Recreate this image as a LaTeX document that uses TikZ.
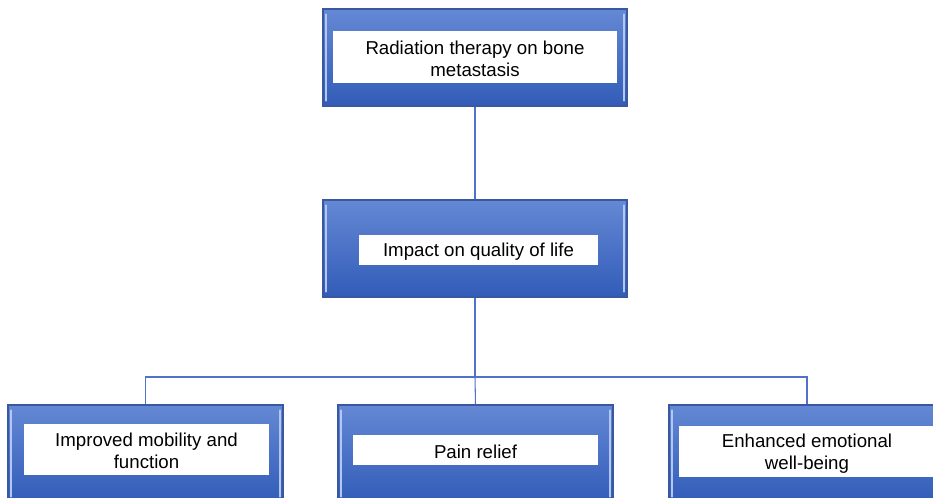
\documentclass[tikz,border=0pt]{standalone}
\usepackage{fontspec}
\setmainfont{Liberation Sans}
\definecolor{boxtop}{RGB}{100,136,212}
\definecolor{boxbot}{RGB}{50,92,184}
\definecolor{boxedge}{RGB}{58,88,160}
\definecolor{bevel}{RGB}{178,200,242}
\definecolor{linkc}{RGB}{80,115,200}
\tikzset{
  outerbox/.style={draw=boxedge, line width=0.8pt, top color=boxtop, bottom color=boxbot, rectangle, inner sep=0pt},
  whitebox/.style={fill=white, draw=none, rectangle, inner sep=0pt},
  labeltext/.style={inner sep=0pt, align=center, font=\fontsize{14pt}{16.5pt}\selectfont, text=black, yshift=-1.3pt},
  link/.style={draw=linkc, line width=0.8pt},
}
\begin{document}
\begin{tikzpicture}[x=0.75pt,y=-0.75pt]
\useasboundingbox (0,0) rectangle (933,497);
\clip (0,0) rectangle (933,497);
\fill[white] (0,0) rectangle (933,497);
% outer boxes
\node[outerbox, minimum width=304*0.75pt, minimum height=97*0.75pt] (top) at (475,57.5) {};
\node[outerbox, minimum width=304*0.75pt, minimum height=97*0.75pt] (mid) at (475,248.5) {};
\node[outerbox, minimum width=275*0.75pt, minimum height=97*0.75pt] (b1) at (145.5,453.5) {};
\node[outerbox, minimum width=275*0.75pt, minimum height=97*0.75pt] (b2) at (475.5,453.5) {};
\node[outerbox, minimum width=276*0.75pt, minimum height=97*0.75pt] (b3) at (807,453.5) {};
% bevels
\foreach \n in {top,mid,b1,b2,b3}{
  \draw[bevel, line width=1.8pt, line cap=round] ([xshift=3.5*0.75pt,yshift=-6*0.75pt]\n.north west) -- ([xshift=3.5*0.75pt,yshift=6*0.75pt]\n.south west);
  \draw[bevel, line width=1.8pt, line cap=round] ([xshift=-3.5*0.75pt,yshift=-6*0.75pt]\n.north east) -- ([xshift=-3.5*0.75pt,yshift=6*0.75pt]\n.south east);
}
% white label panels
\node[whitebox, minimum width=284*0.75pt, minimum height=52*0.75pt] (wtop) at (475,57) {};
\node[whitebox, minimum width=239*0.75pt, minimum height=30*0.75pt] (wmid) at (478.5,250) {};
\node[whitebox, minimum width=245*0.75pt, minimum height=51*0.75pt] (wb1) at (146.5,449.5) {};
\node[whitebox, minimum width=245*0.75pt, minimum height=30*0.75pt] (wb2) at (475.5,450) {};
\node[whitebox, minimum width=256*0.75pt, minimum height=51*0.75pt] (wb3) at (807,451.5) {};
% texts
\node[labeltext] (ttop) at (wtop.center) {Radiation therapy on bone\\metastasis};
\node[labeltext] (tmid) at (wmid.center) {Impact on quality of life};
\node[labeltext] (tb1) at (wb1.center) {Improved mobility and\\function};
\node[labeltext] (tb2) at (wb2.center) {Pain relief};
\node[labeltext] (tb3) at (wb3.center) {Enhanced emotional\\well-being};
% connectors
\coordinate (bus) at (475,377);
\draw[link] (top.south) -- (mid.north);
\draw[link] (mid.south) -- (bus);
\draw[link] (b1.north) |- (bus) -| (b3.north);
\draw[link] (bus) -- (b2.north);
\end{tikzpicture}
\end{document}
